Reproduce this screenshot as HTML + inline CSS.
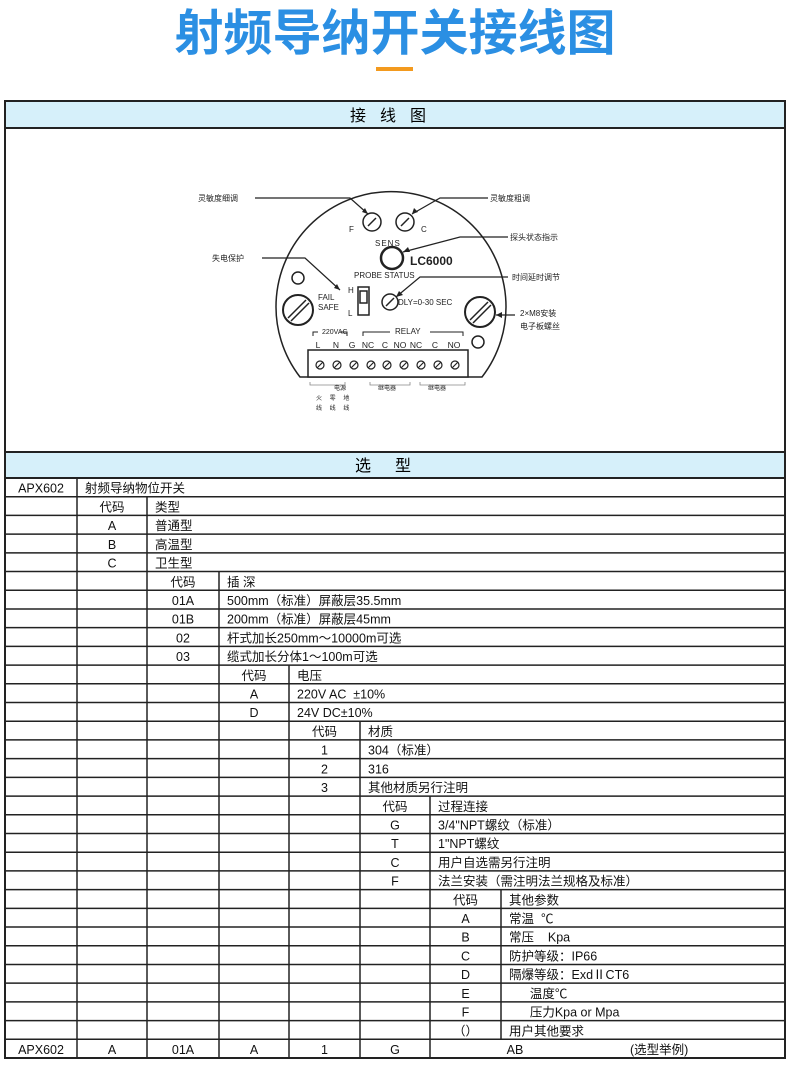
<!DOCTYPE html>
<html><head><meta charset="utf-8">
<style>
body{margin:0;width:790px;height:1085px;background:#fff;overflow:hidden;font-family:"Liberation Sans","Noto Sans CJK SC",sans-serif;}
.t{position:absolute;left:0;top:0;}
</style></head><body>
<div style="position:absolute;left:0;top:4px;width:790px;text-align:center;font-size:49px;line-height:60px;font-weight:bold;color:#2b8fe3;font-family:'Liberation Sans','Noto Sans CJK SC',sans-serif;">射频导纳开关接线图</div>
<div style="position:absolute;left:376px;top:67px;width:37px;height:4px;background:#f39a1e"></div>
<svg class="t" width="790" height="1085" xmlns="http://www.w3.org/2000/svg" font-family="Liberation Sans, Noto Sans CJK SC, sans-serif">
<rect x="5" y="102" width="780" height="26" fill="#d6f0fa"/>
<rect x="5" y="452" width="780" height="26" fill="#d6f0fa"/>
<rect x="5" y="101" width="780" height="957" fill="none" stroke="#222" stroke-width="2"/>
<line x1="5" y1="128" x2="785" y2="128" stroke="#222" stroke-width="2"/>
<line x1="5" y1="452" x2="785" y2="452" stroke="#222" stroke-width="2"/>
<line x1="5" y1="478" x2="785" y2="478" stroke="#222" stroke-width="2"/>
<text x="395" y="121" font-size="16" text-anchor="middle" letter-spacing="14">接线图</text>
<text x="395" y="471" font-size="16" text-anchor="middle" letter-spacing="24">选型</text>
<g stroke="#222" fill="none" stroke-width="1.5">
<path d="M 300 377 A 115 115 0 1 1 482 377 Z" />
<rect x="308" y="350" width="160" height="27" fill="#fff"/>
<circle cx="372" cy="222" r="9"/><circle cx="405" cy="222" r="9"/>
<path d="M368 226 L376 218 M401 226 L409 218 M386 306 L394 298"/>
<circle cx="392" cy="258" r="11" stroke-width="2.5"/>
<circle cx="298" cy="278" r="6"/><circle cx="478" cy="342" r="6"/>
<rect x="358" y="287" width="11" height="28"/><rect x="360" y="291" width="7" height="12"/>
<circle cx="390" cy="302" r="8"/>
<circle cx="298" cy="310" r="15" stroke-width="2"/><circle cx="480" cy="312" r="15" stroke-width="2"/>
<path d="M288 318 L306 300 M291 321 L309 303" /><path d="M470 320 L488 302 M473 323 L491 305"/>
<path d="M313 336 V332 H318 M340 332 H347 V336 M363 336 V332 H390 M430 332 H463 V336" stroke-width="1"/>
<path d="M310 382 v3 h35 v-3 M370 382 v3 h40 v-3 M420 382 v3 h45 v-3" stroke-width="0.8" stroke="#888"/>
<path d="M255 198 H350 L368 214" stroke-width="1.2"/>
<path d="M488 198 H440 L412 214" stroke-width="1.2"/>
<path d="M508 237 H460 L403 252" stroke-width="1.2"/>
<path d="M262 258 H305 L340 290" stroke-width="1.2"/>
<path d="M508 277 H420 L396 297" stroke-width="1.2"/>
<path d="M515 315 H496" stroke-width="1.2"/>
</g>
<g fill="#222">
<path d="M368 214 l-6 -2 l3 -4z"/><path d="M412 214 l2 -6 l4 4z"/><path d="M403 252 l5 -5 l2 5z"/>
<path d="M340 290 l-6 -2 l3 -4z"/><path d="M396 297 l3 -6 l4 4z"/><path d="M496 315 l6 -3 v6z"/>
</g>
<g stroke="#222" stroke-width="1.2" fill="none">
<circle cx="320" cy="365" r="4"/><circle cx="337" cy="365" r="4"/><circle cx="354" cy="365" r="4"/><circle cx="371" cy="365" r="4"/><circle cx="387" cy="365" r="4"/><circle cx="404" cy="365" r="4"/><circle cx="421" cy="365" r="4"/><circle cx="438" cy="365" r="4"/><circle cx="455" cy="365" r="4"/>
<path d="M317 368 l6 -6 M334 368 l6 -6 M351 368 l6 -6 M368 368 l6 -6 M384 368 l6 -6 M401 368 l6 -6 M418 368 l6 -6 M435 368 l6 -6 M452 368 l6 -6"/>
</g>
<g font-size="8" fill="#222">
<text x="198" y="201">灵敏度细调</text><text x="490" y="201">灵敏度粗调</text>
<text x="510" y="240">探头状态指示</text><text x="212" y="261">失电保护</text>
<text x="512" y="280">时间延时调节</text><text x="520" y="316">2×M8安装</text><text x="520" y="329">电子板螺丝</text>
<text x="349" y="232" font-size="8">F</text><text x="421" y="232">C</text>
<text x="375" y="246" font-size="8" letter-spacing="1">SENS</text>
<text x="410" y="265" font-size="12" font-weight="bold">LC6000</text>
<text x="354" y="278" font-size="8">PROBE STATUS</text>
<text x="318" y="300">FAIL</text><text x="318" y="310">SAFE</text>
<text x="348" y="293">H</text><text x="348" y="316">L</text>
<text x="398" y="305">DLY=0-30 SEC</text>
<text x="322" y="334" font-size="7">220VAC</text><text x="395" y="334">RELAY</text>
<g font-size="8.5" text-anchor="middle"><text x="318" y="348">L</text><text x="336" y="348">N</text><text x="352" y="348">G</text><text x="368" y="348">NC</text><text x="385" y="348">C</text><text x="400" y="348">NO</text><text x="416" y="348">NC</text><text x="435" y="348">C</text><text x="454" y="348">NO</text></g>
<text x="334" y="390" font-size="6">电源</text><text x="378" y="390" font-size="6">继电器</text><text x="428" y="390" font-size="6">继电器</text>
<text x="316" y="400" font-size="6" word-spacing="6">火 零 地</text><text x="316" y="410" font-size="6" word-spacing="6">线 线 线</text>
</g>
<g id="tbl" stroke="#222" stroke-width="1.5"></g>
<g id="tx" font-size="12.5" fill="#111"></g>
</svg>
<script>
var cols=[5,77,147,219,289,360,430,501,785];
var S="\u00a0\u00a0\u00a0\u00a0\u00a0\u00a0";
var rows=[[0,"APX602","射频导纳物位开关"],[1,"代码","类型"],[1,"A","普通型"],[1,"B","高温型"],[1,"C","卫生型"],
[2,"代码","插 深"],[2,"01A","500mm（标准）屏蔽层35.5mm"],[2,"01B","200mm（标准）屏蔽层45mm"],[2,"02","杆式加长250mm～10000m可选"],[2,"03","缆式加长分体1～100m可选"],
[3,"代码","电压"],[3,"A","220V AC\u00a0\u00a0±10%"],[3,"D","24V DC±10%"],
[4,"代码","材质"],[4,"1","304（标准）"],[4,"2","316"],[4,"3","其他材质另行注明"],
[5,"代码","过程连接"],[5,"G","3/4\"NPT螺纹（标准）"],[5,"T","1\"NPT螺纹"],[5,"C","用户自选需另行注明"],[5,"F","法兰安装（需注明法兰规格及标准）"],
[6,"代码","其他参数"],[6,"A","常温\u00a0\u00a0℃"],[6,"B","常压\u00a0\u00a0\u00a0\u00a0Kpa"],[6,"C","防护等级：IP66"],[6,"D","隔爆等级：ExdⅡCT6"],[6,"E",S+"温度℃"],[6,"F",S+"压力Kpa or Mpa"],[6,"（）","用户其他要求"]];
var g=document.getElementById('tbl'),tx=document.getElementById('tx'),NS="http://www.w3.org/2000/svg";
var y0=478,h=580/31;
function ln(a,b,c,d){var e=document.createElementNS(NS,'line');e.setAttribute('x1',a);e.setAttribute('y1',b);e.setAttribute('x2',c);e.setAttribute('y2',d);g.appendChild(e);}
function t(x,y,s,anc){var e=document.createElementNS(NS,'text');e.setAttribute('x',x);e.setAttribute('y',y);if(anc)e.setAttribute('text-anchor',anc);e.textContent=s;tx.appendChild(e);}
for(var i=0;i<31;i++){var ya=y0+i*h,yb=ya+h;ln(5,yb,785,yb);
 if(i<30){var L=rows[i][0];for(var k=1;k<=L+1;k++)ln(cols[k],ya,cols[k],yb);
  var cx=(cols[L]+cols[L+1])/2;t(cx,yb-4,rows[i][1],'middle');t(cols[L+1]+8,yb-4,rows[i][2]);}
 else{for(var k=1;k<=6;k++)ln(cols[k],ya,cols[k],yb);var v=["APX602","A","01A","A","1","G"];
  for(var k=0;k<6;k++)t((cols[k]+cols[k+1])/2,yb-4,v[k],'middle');t(515,yb-4,"AB",'middle');t(630,yb-4,"(选型举例)");}
}
</script>
</body></html>
